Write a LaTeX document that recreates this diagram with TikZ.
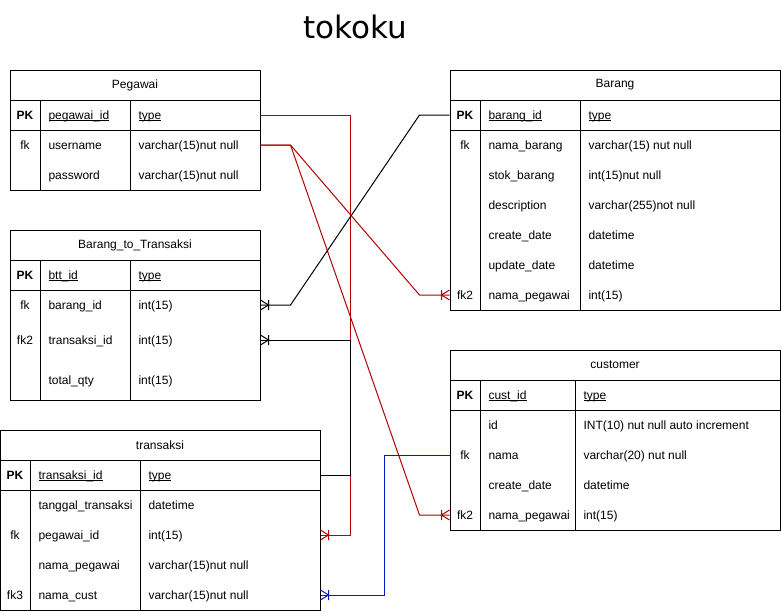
\documentclass[tikz,border=0pt]{standalone}
\usepackage{fontspec}
\setmainfont{Liberation Sans}
\newfontfamily\headfont{DejaVu Sans}
\usepackage{tikz}
\usetikzlibrary{calc}
\definecolor{fkred}{HTML}{B20000}
\definecolor{fkblue}{HTML}{001DBC}

% underline close to the baseline
\newcommand{\pkname}[1]{\setbox0=\hbox{#1}\rlap{\rule[-1.8pt]{\wd0}{0.8pt}}\box0}

% crow's foot with a bar (one or many)
\pgfdeclarearrow{
  name = crow,
  setup code = {
    \pgfarrowssettipend{0pt}
    \pgfarrowssetlineend{0pt}
    \pgfarrowsupperhullpoint{0pt}{5pt}
    \pgfarrowsupperhullpoint{-9pt}{5pt}
  },
  drawing code = {
    \pgfpathmoveto{\pgfqpoint{0pt}{5pt}}
    \pgfpathlineto{\pgfqpoint{-8pt}{0pt}}
    \pgfpathlineto{\pgfqpoint{0pt}{-5pt}}
    \pgfpathmoveto{\pgfqpoint{-8pt}{5pt}}
    \pgfpathlineto{\pgfqpoint{-8pt}{-5pt}}
    \pgfusepathqstroke
  }
}

\begin{document}
\begin{tikzpicture}[x=1pt, y=-1pt, line width=1pt,
	every node/.style={font=\fontsize{12}{14}\selectfont},
	tabbox/.style={rectangle, draw, inner sep=0pt},
	rowbox/.style={rectangle, inner sep=0pt, minimum height=30pt},
	txt/.style={inner sep=0pt, anchor=west, text height=8.6pt, text depth=0pt},
	keytxt/.style={inner sep=0pt, text height=8.6pt, text depth=0pt},
	hd/.style={font=\fontsize{12}{14}\selectfont\bfseries}]

\useasboundingbox (0,0) rectangle (781,611);

\node[font=\headfont\fontsize{31}{36}\selectfont] (title) at (355,27) {tokoku};

% Pegawai
\node[tabbox, minimum width=250pt, minimum height=30pt] (pgTitle) at (135,85) {Pegawai};
\node[tabbox, minimum width=250pt, minimum height=30pt] (pgPK) at (135,115) {};
\node[tabbox, minimum width=250pt, minimum height=60pt] (pgBody) at (135,160) {};
	\node[rowbox, minimum width=250pt] (pgUser) at (135,145) {};
	\node[rowbox, minimum width=250pt] (pgPass) at (135,175) {};
\draw (40,100) -- (40,190);
\draw (130,100) -- (130,190);
\node[keytxt, hd] (pgK0) at (25,115) {PK};
\node[txt] (pgN0) at (48,115) {\pkname{pegawai\_id}};
\node[txt] (pgT0) at (138,115) {\pkname{type}};
\node[keytxt] (pgK1) at (25,145) {fk};
\node[txt] (pgN1) at (48,145) {username};
\node[txt] (pgT1) at (138,145) {varchar(15)nut null};
\node[txt] (pgN2) at (48,175) {password};
\node[txt] (pgT2) at (138,175) {varchar(15)nut null};

% Barang
\node[tabbox, minimum width=330pt, minimum height=30pt] (baTitle) at (615,85) {Barang};
\node[tabbox, minimum width=330pt, minimum height=30pt] (baPK) at (615,115) {};
\node[tabbox, minimum width=330pt, minimum height=180pt] (baBody) at (615,220) {};
	\node[rowbox, minimum width=330pt] (baPeg) at (615,295) {};
\draw (480,100) -- (480,310);
\draw (580,100) -- (580,310);
\node[keytxt, hd] (baK0) at (465,115) {PK};
\node[txt] (baN0) at (488,115) {\pkname{barang\_id}};
\node[txt] (baT0) at (588,115) {\pkname{type}};
\node[keytxt] (baK1) at (465,145) {fk};
\node[txt] (baN1) at (488,145) {nama\_barang};
\node[txt] (baT1) at (588,145) {varchar(15) nut null};
\node[txt] (baN2) at (488,175) {stok\_barang};
\node[txt] (baT2) at (588,175) {int(15)nut null};
\node[txt] (baN3) at (488,205) {description};
\node[txt] (baT3) at (588,205) {varchar(255)not null};
\node[txt] (baN4) at (488,235) {create\_date};
\node[txt] (baT4) at (588,235) {datetime};
\node[txt] (baN5) at (488,265) {update\_date};
\node[txt] (baT5) at (588,265) {datetime};
\node[keytxt] (baK6) at (465,295) {fk2};
\node[txt] (baN6) at (488,295) {nama\_pegawai};
\node[txt] (baT6) at (588,295) {int(15)};

% Barang_to_Transaksi
\node[tabbox, minimum width=250pt, minimum height=30pt] (btTitle) at (135,245) {Barang\_to\_Transaksi};
\node[tabbox, minimum width=250pt, minimum height=30pt] (btPK) at (135,275) {};
\node[tabbox, minimum width=250pt, minimum height=110pt] (btBody) at (135,345) {};
	\node[rowbox, minimum width=250pt] (btBar) at (135,305) {};
	\node[rowbox, minimum width=250pt] (btTrx) at (135,340) {};
\draw (40,260) -- (40,400);
\draw (130,260) -- (130,400);
\node[keytxt, hd] (btK0) at (25,275) {PK};
\node[txt] (btN0) at (48,275) {\pkname{btt\_id}};
\node[txt] (btT0) at (138,275) {\pkname{type}};
\node[keytxt] (btK1) at (25,305) {fk};
\node[txt] (btN1) at (48,305) {barang\_id};
\node[txt] (btT1) at (138,305) {int(15)};
\node[keytxt] (btK2) at (25,340) {fk2};
\node[txt] (btN2) at (48,340) {transaksi\_id};
\node[txt] (btT2) at (138,340) {int(15)};
\node[txt] (btN3) at (48,380) {total\_qty};
\node[txt] (btT3) at (138,380) {int(15)};

% transaksi
\node[tabbox, minimum width=320pt, minimum height=30pt] (trTitle) at (160,445) {transaksi};
\node[tabbox, minimum width=320pt, minimum height=30pt] (trPK) at (160,475) {};
\node[tabbox, minimum width=320pt, minimum height=120pt] (trBody) at (160,550) {};
	\node[rowbox, minimum width=320pt] (trPeg) at (160,535) {};
	\node[rowbox, minimum width=320pt] (trCust) at (160,595) {};
\draw (30,460) -- (30,610);
\draw (140,460) -- (140,610);
\node[keytxt, hd] (trK0) at (15,475) {PK};
\node[txt] (trN0) at (38,475) {\pkname{transaksi\_id}};
\node[txt] (trT0) at (148,475) {\pkname{type}};
\node[txt] (trN1) at (38,505) {tanggal\_transaksi};
\node[txt] (trT1) at (148,505) {datetime};
\node[keytxt] (trK2) at (15,535) {fk};
\node[txt] (trN2) at (38,535) {pegawai\_id};
\node[txt] (trT2) at (148,535) {int(15)};
\node[txt] (trN3) at (38,565) {nama\_pegawai};
\node[txt] (trT3) at (148,565) {varchar(15)nut null};
\node[keytxt] (trK4) at (15,595) {fk3};
\node[txt] (trN4) at (38,595) {nama\_cust};
\node[txt] (trT4) at (148,595) {varchar(15)nut null};

% customer
\node[tabbox, minimum width=330pt, minimum height=30pt] (cuTitle) at (615,365) {customer};
\node[tabbox, minimum width=330pt, minimum height=30pt] (cuPK) at (615,395) {};
\node[tabbox, minimum width=330pt, minimum height=120pt] (cuBody) at (615,470) {};
	\node[rowbox, minimum width=330pt] (cuNama) at (615,455) {};
	\node[rowbox, minimum width=330pt] (cuPeg) at (615,515) {};
\draw (480,380) -- (480,530);
\draw (575,380) -- (575,530);
\node[keytxt, hd] (cuK0) at (465,395) {PK};
\node[txt] (cuN0) at (488,395) {\pkname{cust\_id}};
\node[txt] (cuT0) at (583,395) {\pkname{type}};
\node[txt] (cuN1) at (488,425) {id};
\node[txt] (cuT1) at (583,425) {INT(10) nut null auto increment};
\node[keytxt] (cuK2) at (465,455) {fk};
\node[txt] (cuN2) at (488,455) {nama};
\node[txt] (cuT2) at (583,455) {varchar(20) nut null};
\node[txt] (cuN3) at (488,485) {create\_date};
\node[txt] (cuT3) at (583,485) {datetime};
\node[keytxt] (cuK4) at (465,515) {fk2};
\node[txt] (cuN4) at (488,515) {nama\_pegawai};
\node[txt] (cuT4) at (583,515) {int(15)};

% relations
\draw[fkred, -crow] (pgPK.east) -- ++(90,0) |- (trPeg.east);
\draw[fkred, -crow] (pgUser.east) -- ++(30,0) -- ($(baPeg.west)+(-30,0)$) -- (baPeg.west);
\draw[fkred, -crow] (pgUser.east) -- ++(30,0) -- ($(cuPeg.west)+(-30,0)$) -- (cuPeg.west);
\draw[-crow] (baPK.west) -- ++(-30,0) -- ($(btBar.east)+(30,0)$) -- (btBar.east);
\draw[-crow] (trPK.east) -- ++(30,0) |- (btTrx.east);
\draw[fkblue, -crow] (cuNama.west) -- ++(-65,0) |- (trCust.east);

\end{tikzpicture}
\end{document}
